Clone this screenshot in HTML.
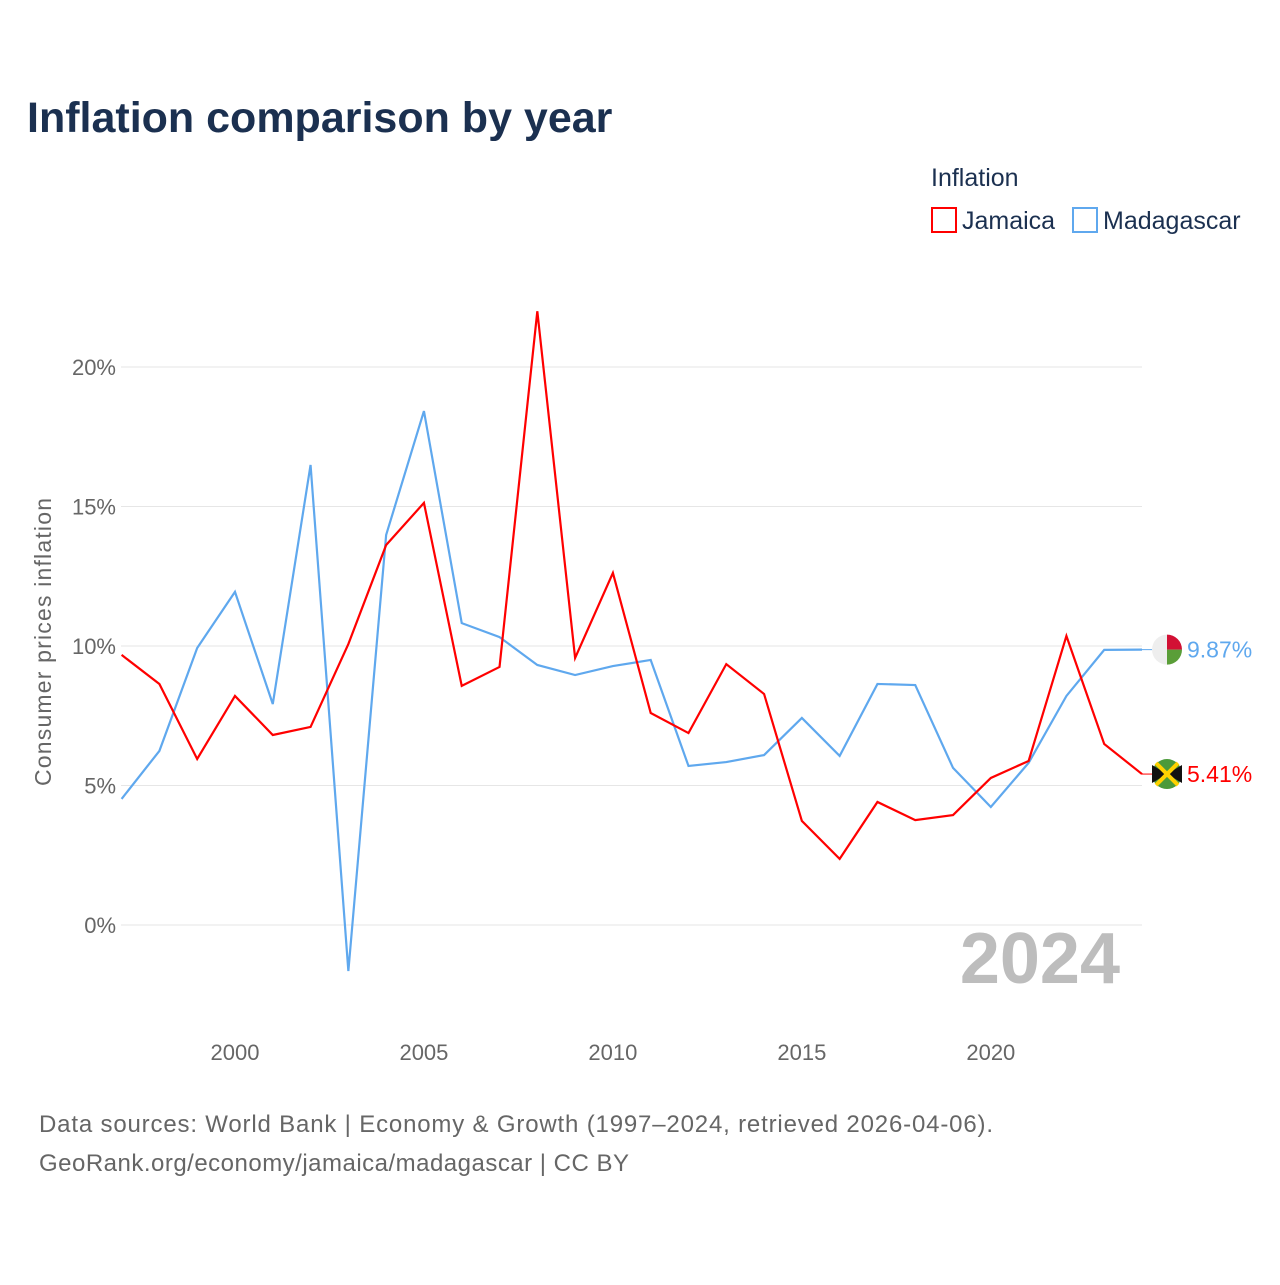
<!DOCTYPE html>
<html><head><meta charset="utf-8">
<style>
body{margin:0;background:#fff;font-family:"Liberation Sans",sans-serif;}
#wrap{position:relative;width:1280px;height:1280px;}
</style></head>
<body><div id="wrap">
<svg id="chart" width="1280" height="1280" xmlns="http://www.w3.org/2000/svg">
<text x="27" y="132" font-size="43" font-weight="bold" fill="#1b3050">Inflation comparison by year</text>
<text x="931" y="186" font-size="25" fill="#1b3050">Inflation</text>
<g><rect x="932" y="208" width="24" height="24" fill="none" stroke="#f00" stroke-width="2"/><text x="962" y="229" font-size="25" fill="#1b3050">Jamaica</text></g>
<g><rect x="1073" y="208" width="24" height="24" fill="none" stroke="#5fa8ee" stroke-width="2"/><text x="1103" y="229" font-size="25" fill="#1b3050">Madagascar</text></g>
<text transform="translate(51,642) rotate(-90)" text-anchor="middle" font-size="23" fill="#666" textLength="288">Consumer prices inflation</text>
<text x="1120" y="983" text-anchor="end" font-size="72" font-weight="bold" fill="#bdbdbd">2024</text>
<g id="grid"></g><g id="xt"></g><g id="series"></g>
<text x="39" y="1132" font-size="24" fill="#666" textLength="954">Data sources: World Bank | Economy &amp; Growth (1997–2024, retrieved 2026-04-06).</text>
<text x="39" y="1171" font-size="24" fill="#666" textLength="590">GeoRank.org/economy/jamaica/madagascar | CC BY</text>
</svg></div>
<script>
const years=[1997,1998,1999,2000,2001,2002,2003,2004,2005,2006,2007,2008,2009,2010,2011,2012,2013,2014,2015,2016,2017,2018,2019,2020,2021,2022,2023,2024];
const jamaica=[9.68,8.64,5.95,8.21,6.81,7.10,10.07,13.62,15.13,8.57,9.25,22.0,9.57,12.62,7.60,6.88,9.35,8.28,3.73,2.37,4.41,3.76,3.94,5.27,5.88,10.36,6.49,5.41];
const madagascar=[4.52,6.24,9.93,11.94,7.92,16.49,-1.65,13.98,18.42,10.82,10.32,9.32,8.96,9.28,9.50,5.70,5.84,6.09,7.42,6.06,8.64,8.60,5.63,4.23,5.81,8.21,9.86,9.87];
const yTicks=[0,5,10,15,20];
const xTicks=[2000,2005,2010,2015,2020];
const NS="http://www.w3.org/2000/svg";
const x=v=>121.6+(v-1997)*(1142-121.6)/27;
const y=v=>925-v*27.9;
function mk(t,a,p){const e=document.createElementNS(NS,t);for(const k in a)e.setAttribute(k,a[k]);p.appendChild(e);return e;}
const grid=document.getElementById('grid');
yTicks.forEach(t=>{
 const l=mk('line',{x1:121,x2:1142,y1:y(t),y2:y(t),stroke:'#e6e6e6','stroke-width':1},grid);
 
 
 const tx=mk('text',{x:116,y:y(t)+8,'text-anchor':'end','font-size':22,fill:'#666'},grid);tx.textContent=t+'%';
 
 
});
const xt=document.getElementById('xt');
xTicks.forEach(t=>{
 const tx=mk('text',{x:x(t),y:1060,'text-anchor':'middle','font-size':22,fill:'#666'},xt);tx.textContent=t;
 
 
});
const s=document.getElementById('series');
function line(vals,col,name){
 const p=mk('polyline',{points:vals.map((v,i)=>x(years[i])+','+y(v)).join(' '),fill:'none',stroke:col,'stroke-width':2.2},s);
 
 
}
line(madagascar,'#5fa8ee','line-madagascar');
line(jamaica,'#f00','line-jamaica');
function endLabel(v,col,name,flag){
 const yy=y(v);
 mk('line',{x1:1142,x2:1152,y1:yy,y2:yy,stroke:col,'stroke-width':1},s);
 const g=mk('g',{},s);
 
 
 if(flag==='mg'){
  mk('circle',{cx:1167,cy:yy,r:15,fill:'#eee'},g);
  mk('path',{d:`M1167 ${yy} L1167 ${yy-15} A15 15 0 0 1 1182 ${yy} Z`,fill:'#d21034'},g);
  mk('path',{d:`M1167 ${yy} L1182 ${yy} A15 15 0 0 1 1167 ${yy+15} Z`,fill:'#5a9e38'},g);
 }else{
  mk('circle',{cx:1167,cy:yy,r:15,fill:'#4a9a3a'},g);
  mk('path',{d:`M1152 ${yy-9} L1167 ${yy} L1152 ${yy+9} Z M1182 ${yy-9} L1167 ${yy} L1182 ${yy+9} Z`,fill:'#111'},g);
  mk('line',{x1:1156,y1:yy-11,x2:1178,y2:yy+11,stroke:'#fed100','stroke-width':4},g);
  mk('line',{x1:1156,y1:yy+11,x2:1178,y2:yy-11,stroke:'#fed100','stroke-width':4},g);
 }
 const t=mk('text',{x:1187,y:yy+8,'font-size':23,fill:col},s);t.textContent=v.toFixed(2)+'%';
 
 
}
endLabel(madagascar[madagascar.length-1],'#5fa8ee','madagascar','mg');
endLabel(jamaica[jamaica.length-1],'#f00','jamaica','jm');
</script>
</body></html>
